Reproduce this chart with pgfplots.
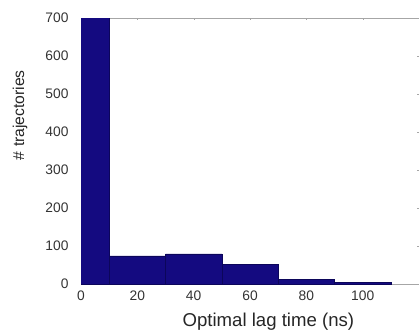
\documentclass[border=0pt]{standalone}
\usepackage{pgfplots}
\pgfplotsset{compat=1.18}
\usepackage{fontspec}
\setmainfont{Liberation Sans}
\definecolor{barblue}{RGB}{20,10,128}
\definecolor{baredge}{RGB}{12,6,90}
\begin{document}
\begin{tikzpicture}[x=1pt,y=1pt]
\path[use as bounding box] (0,0) rectangle (419,333);
\begin{axis}[
  at={(81pt,49pt)}, anchor=south west,
  scale only axis, width=338pt, height=266pt,
  xmin=0, xmax=120, ymin=0, ymax=700,
  xtick={0,20,40,60,80,100},
  ytick={0,100,200,300,400,500,600,700},
  tick align=inside,
  major tick length=2pt,
  axis line style={gray!70},
  tick style={gray!70},
  /pgf/number format/assume math mode=true,
  ticklabel style={font=\fontsize{13.8}{15}\selectfont, text=black!80},
  xlabel={Optimal lag time (ns)},
  ylabel={\# trajectories},
  xlabel style={font=\fontsize{18.6}{20}\selectfont, text=black!85,
    at={(axis description cs:0.5544,0)}, anchor=center, yshift=-38pt},
  ylabel style={font=\fontsize{15.7}{17}\selectfont, text=black!85,
    at={(axis description cs:0,0.635)}, anchor=center, yshift=61pt},
  xticklabel style={yshift=-3pt},
  yticklabel style={xshift=-9pt},
  clip=true,
]
\addplot[ybar, bar width=20, bar shift=0pt, fill=barblue, draw=baredge, line width=0.4pt]
  coordinates {(0,760) (20,74) (40,79) (60,52) (80,12) (100,5)};
\end{axis}
\end{tikzpicture}
\end{document}
